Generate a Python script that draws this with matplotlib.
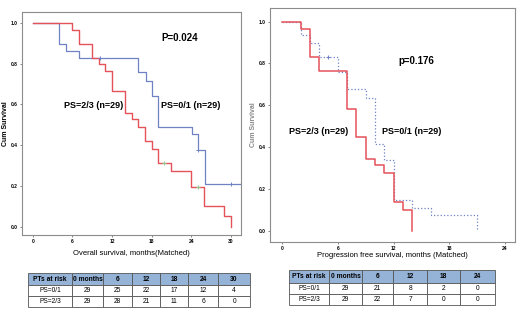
import matplotlib
matplotlib.use("Agg")
import matplotlib.pyplot as plt

# Overall survival (left) - step curves
os_t_01 = [0, 4.0, 5.0, 7.0, 16.0, 17.1, 18.0, 19.0, 24.1, 25.0, 26.1, 31.5]
os_s_01 = [1.0, 0.895, 0.86, 0.829, 0.758, 0.717, 0.639, 0.491, 0.456, 0.379, 0.209, 0.209]
os_cens_t_01 = [10.1, 25.0, 30.0]
os_cens_s_01 = [0.829, 0.379, 0.209]

os_t_23 = [0, 6.0, 7.0, 9.0, 10.0, 11.0, 12.0, 14.0, 15.0, 16.0, 17.0, 18.0, 19.0, 21.0, 24.0, 26.0, 29.0, 30.0]
os_s_23 = [1.0, 0.964, 0.898, 0.829, 0.796, 0.763, 0.664, 0.557, 0.527, 0.491, 0.42, 0.384, 0.313, 0.272, 0.198, 0.102, 0.053, 0.0]
os_cens_t_23 = [19.8, 25.0]
os_cens_s_23 = [0.313, 0.198]

# Progression free survival (right)
pfs_t_01 = [0, 2.0, 3.0, 4.0, 6.0, 7.0, 9.0, 10.0, 11.0, 12.0, 14.0, 16.0, 21.0]
pfs_s_01 = [1.0, 0.936, 0.896, 0.829, 0.76, 0.677, 0.635, 0.413, 0.336, 0.149, 0.11, 0.077, 0.0]
pfs_cens_t_01 = [5.0]
pfs_cens_s_01 = [0.829]

pfs_t_23 = [0, 2.0, 3.0, 4.0, 7.0, 8.0, 9.0, 10.0, 11.0, 12.0, 13.0, 14.0]
pfs_s_23 = [1.0, 0.966, 0.829, 0.765, 0.584, 0.448, 0.344, 0.314, 0.275, 0.136, 0.101, 0.0]

# at-risk tables
os_cols = ["PTs at risk", "0 months", "6", "12", "18", "24", "30"]
os_risk_01 = ["PS=0/1", "29", "25", "22", "17", "12", "4"]
os_risk_23 = ["PS=2/3", "29", "28", "21", "11", "6", "0"]

pfs_cols = ["PTs at risk", "0 months", "6", "12", "18", "24"]
pfs_risk_01 = ["PS=0/1", "29", "21", "8", "2", "0"]
pfs_risk_23 = ["PS=2/3", "29", "22", "7", "0", "0"]

RED = "#e5525a"
BLUE = "#6f82c4"
FRAME = "#8c8c8c"

plt.rcParams["font.family"] = ["Liberation Sans", "DejaVu Sans"]

fig = plt.figure(figsize=(5.2, 3.23), dpi=100)


def style_axes(ax, xticks, xlim, ylim):
    ax.set_xlim(*xlim)
    ax.set_ylim(*ylim)
    ax.set_xticks(xticks)
    ax.set_yticks([0.0, 0.2, 0.4, 0.6, 0.8, 1.0])
    ax.set_yticklabels(["0.0", "0.2", "0.4", "0.6", "0.8", "1.0"])
    ax.tick_params(labelsize=3.5, length=1.5, width=0.5, color="#555555", pad=1.5)
    for lab in ax.get_xticklabels() + ax.get_yticklabels():
        lab.set_fontweight("bold")
    for sp in ax.spines.values():
        sp.set_color(FRAME)
        sp.set_linewidth(0.8)


# left panel
ax1 = fig.add_axes([0.042, 0.272, 0.421, 0.691])
ax1.step(os_t_01, os_s_01, where="post", color=BLUE, lw=0.9)
ax1.step(os_t_23, os_s_23, where="post", color=RED, lw=1.0)
ax1.plot(os_cens_t_01, os_cens_s_01, "+", color=BLUE, ms=3, mew=0.7)
ax1.plot(os_cens_t_23, os_cens_s_23, "+", color="#8fc98f", ms=3, mew=0.7)
style_axes(ax1, [0, 6, 12, 18, 24, 30], (-1.67, 31.5), (-0.04, 1.053))
ax1.set_ylabel("Cum Survival", fontsize=5, fontweight="bold", labelpad=1)
ax1.set_xlabel("Overall survival, months(Matched)", fontsize=5.5, labelpad=4)
ax1.text(0.72, 0.87, "P=0.024", transform=ax1.transAxes, fontsize=7, fontweight="bold", ha="center")
ax1.text(0.33, 0.57, "PS=2/3 (n=29)", transform=ax1.transAxes, fontsize=6.5, fontweight="bold", ha="center")
ax1.text(0.77, 0.57, "PS=0/1 (n=29)", transform=ax1.transAxes, fontsize=6.5, fontweight="bold", ha="center")

# right panel
ax2 = fig.add_axes([0.519, 0.251, 0.471, 0.724])
ax2.step(pfs_t_01, pfs_s_01, where="post", color=BLUE, lw=0.9, ls=":")
ax2.step(pfs_t_23, pfs_s_23, where="post", color=RED, lw=1.1)
ax2.plot(pfs_cens_t_01, pfs_cens_s_01, "+", color=BLUE, ms=3, mew=0.7)
style_axes(ax2, [0, 6, 12, 18, 24], (-1.3, 25.05), (-0.054, 1.065))
ax2.set_ylabel("Cum Survival", fontsize=5, fontweight="bold", labelpad=1, color="#888888")
ax2.set_xlabel("Progression free survival, months (Matched)", fontsize=5.5, labelpad=1)
ax2.text(0.60, 0.76, "p=0.176", transform=ax2.transAxes, fontsize=7, fontweight="bold", ha="center")
ax2.text(0.20, 0.46, "PS=2/3 (n=29)", transform=ax2.transAxes, fontsize=6.5, fontweight="bold", ha="center")
ax2.text(0.58, 0.46, "PS=0/1 (n=29)", transform=ax2.transAxes, fontsize=6.5, fontweight="bold", ha="center")


def risk_table(rect, cols, r1, r2, widths):
    tax = fig.add_axes(rect)
    tax.axis("off")
    tbl = tax.table(cellText=[cols, r1, r2], cellLoc="center", bbox=[0, 0, 1, 1],
                    colWidths=widths)
    tbl.auto_set_font_size(False)
    for (r, c), cell in tbl.get_celld().items():
        cell.set_edgecolor("#555555")
        cell.set_linewidth(0.6)
        cell.get_text().set_fontsize(4.8)
        cell.get_text().set_fontstretch("condensed")
        cell.set_height(0.36 if r == 0 else 0.32)
        if r == 0:
            cell.set_facecolor("#95b3d7")
            cell.get_text().set_fontweight("bold")
    return tbl


risk_table([0.054, 0.049, 0.427, 0.106], os_cols, os_risk_01, os_risk_23,
           [44, 31, 29, 28, 28, 30, 32])
risk_table([0.556, 0.056, 0.396, 0.108], pfs_cols, pfs_risk_01, pfs_risk_23,
           [40, 33, 31, 34, 33, 35])

fig.savefig("out.png", dpi=100)
